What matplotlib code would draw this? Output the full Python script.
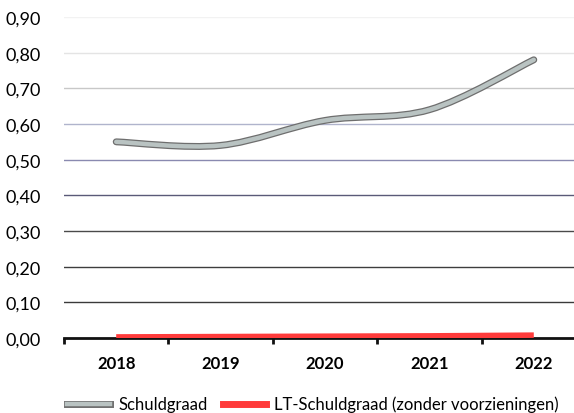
import numpy as np
import matplotlib
matplotlib.use("Agg")
import matplotlib.pyplot as plt
import matplotlib.patheffects as pe
from matplotlib.path import Path
from matplotlib.patches import PathPatch
from matplotlib.lines import Line2D

plt.rcParams['font.family'] = ['Lato', 'DejaVu Sans']

jaren = ['2018', '2019', '2020', '2021', '2022']
schuldgraad = [0.55, 0.54, 0.61, 0.64, 0.78]
lt_schuldgraad = [0.003, 0.004, 0.005, 0.006, 0.008]
y_ticks = [0.0, 0.1, 0.2, 0.3, 0.4, 0.5, 0.6, 0.7, 0.8, 0.9]
# gridline colors, faint at the top, darker towards the axis
grid_kleuren = ['#000000', '#3a3a3a', '#3e3e3e', '#4a4a4a', '#5a5a78',
                '#8a8ab0', '#b0b4cc', '#c8c8c8', '#e4e4e4', '#f2f2f2']


def smooth_pad(xs, ys, t=0.5):
    # bezier path through all points (excel style smoothed line)
    xs = np.asarray(xs, float)
    ys = np.asarray(ys, float)
    verts = [(xs[0], ys[0])]
    codes = [Path.MOVETO]
    n = len(xs)
    for i in range(n - 1):
        p0 = np.array([xs[max(i - 1, 0)], ys[max(i - 1, 0)]])
        p1 = np.array([xs[i], ys[i]])
        p2 = np.array([xs[i + 1], ys[i + 1]])
        p3 = np.array([xs[min(i + 2, n - 1)], ys[min(i + 2, n - 1)]])
        c1 = p1 + (p2 - p0) * t / 3
        c2 = p2 - (p3 - p1) * t / 3
        verts += [tuple(c1), tuple(c2), tuple(p2)]
        codes += [Path.CURVE4] * 3
    return Path(verts, codes)


fig = plt.figure(figsize=(5.74, 4.14), dpi=100)
ax = fig.add_axes([64 / 574, 75 / 414, 522 / 574, 321 / 414])

x = np.arange(len(jaren))

for yv, kl in zip(y_ticks[1:], grid_kleuren[1:]):
    ax.axhline(yv, color=kl, lw=1.0, zorder=1)

ax.plot(x, lt_schuldgraad, color='#ff3b3b', lw=4, solid_capstyle='butt', zorder=4)

lijn_effect = [pe.Stroke(linewidth=5, foreground='#6e6e6e'), pe.Normal()]
pad = smooth_pad(x, schuldgraad)
ax.add_patch(PathPatch(pad, facecolor='none', edgecolor='#b9c3c2', lw=3.2,
                       capstyle='round', zorder=5, path_effects=lijn_effect))

ax.set_xlim(-0.5, 4.5)
ax.set_ylim(0, 0.9)
ax.set_yticks(y_ticks)
ax.set_yticklabels([f'{v:.2f}'.replace('.', ',') for v in y_ticks], fontsize=13)
ax.set_xticks(x)
ax.set_xticklabels(jaren, fontsize=12, fontweight='bold')
ax.tick_params(axis='x', length=0, pad=12)
ax.tick_params(axis='y', length=0, pad=17)
ax.set_xticks(np.arange(-0.5, 5, 1), minor=True)
ax.tick_params(axis='x', which='minor', length=4, width=2, direction='out', color='#111111')

for s in ['top', 'right', 'left']:
    ax.spines[s].set_visible(False)
ax.spines['bottom'].set_color('#111111')
ax.spines['bottom'].set_linewidth(2)
ax.spines['bottom'].set_zorder(3)

handles = [
    Line2D([], [], color='#b9c3c2', lw=3.2, path_effects=lijn_effect),
    Line2D([], [], color='#ff3b3b', lw=5),
]
fig.legend(handles, ['Schuldgraad', 'LT-Schuldgraad (zonder voorzieningen)'],
           loc='lower center', bbox_to_anchor=(0.545, -0.035), ncol=2, frameon=False,
           fontsize=12, handlelength=2.6, handletextpad=0.5, columnspacing=0.9)

fig.savefig('out.png', dpi=100)
